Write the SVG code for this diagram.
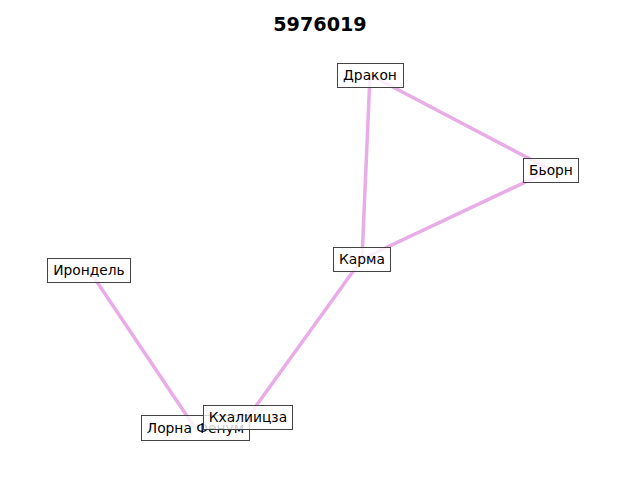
<svg xmlns="http://www.w3.org/2000/svg" width="640" height="480" viewBox="0 0 640 480">
<style>
.e{stroke:#e8ace8;stroke-width:3.5;fill:none;stroke-linecap:round}
.b{fill:#ffffff;fill-opacity:0.8;stroke:#444444;stroke-width:1}
.t{font-family:"DejaVu Sans",sans-serif;font-size:13.8px;fill:#000;text-anchor:middle;dominant-baseline:central}
</style>
<rect width="640" height="480" fill="#fff"/>
<text x="320" y="24" font-family="DejaVu Sans, sans-serif" font-size="19.2" font-weight="bold" text-anchor="middle" dominant-baseline="central">5976019</text>
<g id="edges">
<line class="e" x1="370" y1="75" x2="551" y2="170"/>
<line class="e" x1="370" y1="75" x2="362" y2="259"/>
<line class="e" x1="551" y1="170" x2="362" y2="259"/>
<line class="e" x1="362" y1="259" x2="248" y2="417"/>
<line class="e" x1="89" y1="270" x2="195" y2="428"/>
</g>
<g id="n1"><rect class="b" x="337.5" y="63.5" width="66" height="24"/><text class="t" x="370" y="75">Дракон</text></g>
<g id="n2"><rect class="b" x="523.5" y="158.5" width="55" height="24"/><text class="t" x="551" y="170">Бьорн</text></g>
<g id="n3"><rect class="b" x="333.5" y="247.5" width="57" height="24"/><text class="t" x="362" y="259">Карма</text></g>
<g id="n4"><rect class="b" x="47.5" y="258.5" width="83" height="24"/><text class="t" x="89" y="270">Ирондель</text></g>
<g id="n5"><rect class="b" x="141.5" y="415.5" width="108" height="25"/><text class="t" x="195.5" y="428">Лорна Фенум</text></g>
<g id="n6"><rect class="b" x="203.5" y="405.5" width="89" height="24"/><text class="t" x="248" y="417">Кхалиицза</text></g>
</svg>
